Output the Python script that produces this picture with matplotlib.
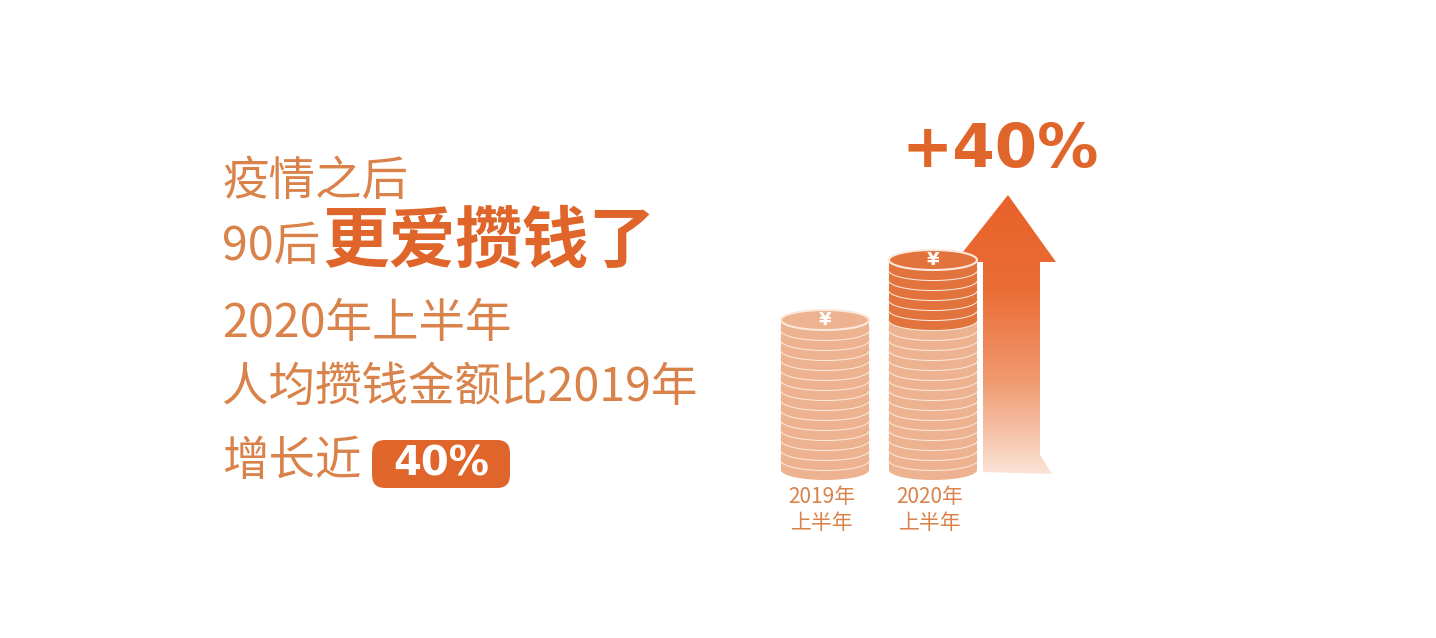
import numpy as np
import matplotlib.pyplot as plt
from matplotlib.patches import Ellipse, Rectangle, Polygon, FancyBboxPatch
from matplotlib.colors import LinearSegmentedColormap

plt.rcParams['font.family'] = 'Noto Sans CJK SC'

# data: coin counts per half-year (2020 is ~40% higher)
years = ['2019年\n上半年', '2020年\n上半年']
coins = [15, 21]
new_coins = [0, 6]   # extra coins highlighted in 2020
growth_label = '+40%'

light = '#EDB28F'
dark = '#E2733D'
txt = '#D9824A'
strong = '#E0652A'

fig = plt.figure(figsize=(14.36, 6.38), dpi=100)
ax = fig.add_axes([0, 0, 1, 1])

# left text block
ax.text(222, 182, '疫情之后', fontsize=33.5, color=txt, va='center')
ax.text(222, 247, '90后', fontsize=33.5, color=txt, va='center')
ax.text(322, 242, '更爱攒钱了', fontsize=48, color=strong, va='center', fontweight='heavy')
ax.text(222, 324, '2020年上半年', fontsize=33.5, color=txt, va='center')
ax.text(222, 388, '人均攒钱金额比2019年', fontsize=33.5, color=txt, va='center')
ax.text(222, 462, '增长近', fontsize=33.5, color=txt, va='center')
ax.add_patch(FancyBboxPatch((372, 440), 138, 48, boxstyle='round,pad=0,rounding_size=13',
                            fc=strong, ec='none'))
ax.text(441, 465, '40%', fontsize=29, color='white', fontweight='bold', ha='center', va='center',
        family='DejaVu Sans')

# coin stacks
centers = [825, 933]
bottom = 460
step = 10
w = 88
for cx, n, nn, lab in zip(centers, coins, new_coins, years):
    for i in range(n):
        y = bottom - i * step
        c = dark if i >= n - nn else light
        ax.add_patch(Rectangle((cx - w / 2, y), w, step, fc=c, ec='none', zorder=2 + 2 * i))
        ax.add_patch(Ellipse((cx, y + step), w, 20, fc=c, ec='none', zorder=2 + 2 * i))
        ax.add_patch(Ellipse((cx, y), w, 20, fc=c, ec='#FBE9DC', lw=1.5, zorder=3 + 2 * i))
    top = bottom - (n - 1) * step
    ax.text(cx, top, '¥', fontsize=13, color='white', fontweight='bold', ha='center', va='center',
            zorder=4 + 2 * n, family='DejaVu Sans')
    ax.text(cx - 3, bottom + 50, lab, fontsize=15, color=txt, ha='center', va='center', linespacing=1.2)

# gradient arrow
arrow = Polygon([(983, 472), (983, 262), (955, 262), (1008, 195), (1056, 262), (1040, 262),
                 (1040, 455), (1052, 474)], closed=True, fc='none', ec='none')
ax.add_patch(arrow)
grad = np.linspace(0, 1, 256).reshape(-1, 1)
cmap = LinearSegmentedColormap.from_list('g', ['#E8622A', '#EA6C35', '#F09A70', '#FBE3D6'])
im = ax.imshow(grad, extent=(950, 1060, 474, 195), cmap=cmap, aspect='auto', zorder=1)
im.set_clip_path(arrow)
ax.set_xlim(0, 1436)
ax.set_ylim(638, 0)
ax.axis('off')

ax.text(1000, 150, growth_label, fontsize=44, color=strong, fontweight='bold', ha='center',
        va='center', family='DejaVu Sans')

fig.savefig('out.png', dpi=100, facecolor='white')
